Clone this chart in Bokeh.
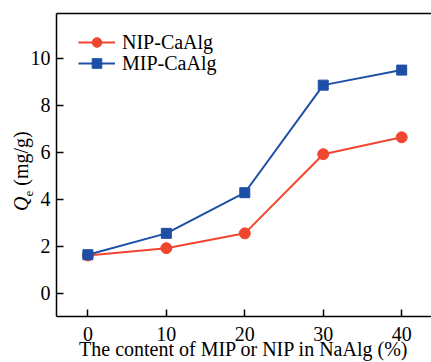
from bokeh.plotting import figure
from bokeh.models import (Legend, LegendItem, LinearAxis, FixedTicker, Div,
                          Range1d)
from bokeh.layouts import row
from bokeh.embed import file_html
from bokeh.resources import INLINE

# data
content = [0, 10, 20, 30, 40]
nip_caalg = [1.60, 1.91, 2.54, 5.91, 6.63]
mip_caalg = [1.63, 2.54, 4.27, 8.85, 9.49]
x_ticks = [0, 10, 20, 30, 40]
y_ticks = [0, 2, 4, 6, 8, 10]
series_names = ["NIP-CaAlg", "MIP-CaAlg"]
x_title = "The content of MIP or NIP in NaAlg (%)"
y_symbol, y_sub, y_unit = "Q", "e", "(mg/g)"

RED = "#f04630"
BLUE = "#1d4fa6"
FONT = "Liberation Serif"

p = figure(width=405, height=362, output_backend="svg", toolbar_location=None,
           x_range=Range1d(-4, 43.8), y_range=Range1d(-1, 11.9),
           min_border_left=30, min_border_right=0, min_border_top=13,
           min_border_bottom=45)
p.outline_line_color = None
p.grid.visible = False
p.background_fill_color = "white"
p.border_fill_alpha = 0

for axes in (p.xaxis, p.yaxis):
    axes.axis_line_color = "black"
    axes.axis_line_width = 1.5
    axes.major_tick_line_color = "black"
    axes.major_tick_line_width = 1.5
    axes.major_tick_in = 7
    axes.major_tick_out = 0
    axes.minor_tick_line_color = None
    axes.major_label_text_font = FONT
    axes.major_label_text_font_size = "20px"
    axes.major_label_text_color = "black"

p.xaxis.major_label_standoff = 10
p.yaxis.major_label_standoff = 6
p.yaxis.axis_label = None
p.yaxis.axis_label_standoff = 0
p.xaxis.ticker = FixedTicker(ticks=x_ticks)
p.yaxis.ticker = FixedTicker(ticks=y_ticks)
p.xaxis.axis_label = x_title
p.xaxis.axis_label_text_font = FONT
p.xaxis.axis_label_text_font_size = "20px"
p.xaxis.axis_label_text_font_style = "normal"
p.xaxis.axis_label_text_color = "black"
p.xaxis.axis_label_standoff = -6

top = LinearAxis(ticker=FixedTicker(ticks=[]), axis_line_color="black",
                 axis_line_width=1.5, major_tick_line_color=None,
                 minor_tick_line_color=None, axis_label_standoff=0)
p.add_layout(top, "above")

l1 = p.line(content, nip_caalg, line_color=RED, line_width=2)
s1 = p.scatter(content, nip_caalg, marker="circle", size=11,
               fill_color=RED, line_color=RED)
l2 = p.line(content, mip_caalg, line_color=BLUE, line_width=2)
s2 = p.scatter(content, mip_caalg, marker="square", size=10,
               fill_color=BLUE, line_color=BLUE)

leg_style = dict(glyph_width=37, glyph_height=24, label_height=24,
                 label_standoff=7, spacing=0, padding=0, margin=0,
                 border_line_color=None, background_fill_alpha=0,
                 label_text_font=FONT, label_text_font_size="20px",
                 label_text_color="black")
leg1 = Legend(items=[LegendItem(label=series_names[0], renderers=[l1, s1])],
              location=(22, 262), **leg_style)
leg2 = Legend(items=[LegendItem(label=series_names[1], renderers=[l2, s2])],
              location=(22, 241), **leg_style)
p.add_layout(leg1)
p.add_layout(leg2)

# y-axis title as rotated HTML text: italic Q with subscript e, then unit
y_html = (
    '<div style="position:relative;width:26px;height:362px;overflow:visible;">'
    '<div style="position:absolute;left:10px;top:211px;'
    'transform:rotate(-90deg);transform-origin:0 0;white-space:nowrap;'
    "font-family:'Liberation Serif',serif;font-size:20px;line-height:23px;"
    'color:black;">'
    f'<i>{y_symbol}</i><span style="font-size:13px;position:relative;'
    f'top:5px;">{y_sub}</span> {y_unit}</div></div>'
)
ytitle = Div(text=y_html, width=26, height=362, margin=0,
             styles={"overflow": "visible"})

layout = row(ytitle, p, spacing=0)
open("out.html", "w").write(file_html(layout, INLINE))
